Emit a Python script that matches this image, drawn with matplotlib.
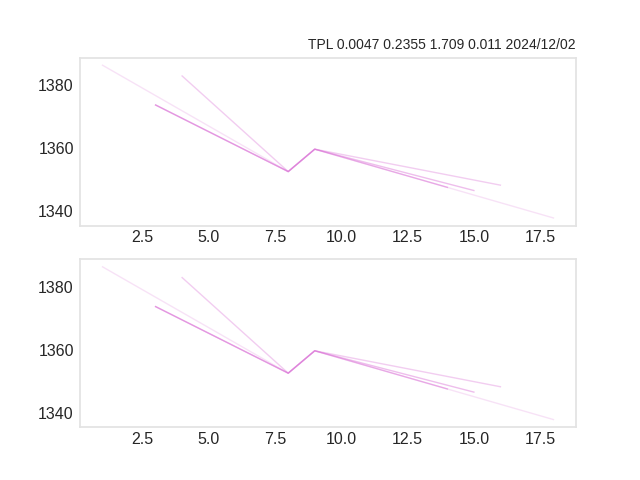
import matplotlib
matplotlib.use("Agg")
import matplotlib.pyplot as plt

title = "TPL 0.0047 0.2355 1.709 0.011 2024/12/02"

# each series: x positions and y values
series_x = [
    [1, 8, 9, 18],
    [4, 8, 9, 16],
    [3, 8, 9, 15],
    [3, 8, 9, 14],
]
series_y = [
    [1386.3, 1352.6, 1359.7, 1337.9],
    [1382.9, 1352.6, 1359.7, 1348.3],
    [1373.7, 1352.6, 1359.7, 1346.6],
    [1373.7, 1352.6, 1359.7, 1347.6],
]
series_alpha = [0.2, 0.35, 0.45, 0.5]

plt.rcParams['font.family'] = ['Liberation Sans', 'DejaVu Sans']

fig, axes = plt.subplots(2, 1, figsize=(6.4, 4.8), dpi=100)
for ax in axes:
    for xs, ys, a in zip(series_x, series_y, series_alpha):
        ax.plot(xs, ys, color='orchid', alpha=a, linewidth=1)
    ax.grid(False)
    ax.set_facecolor('white')
    for s in ax.spines.values():
        s.set_color('#e3e3e3')
        s.set_linewidth(1.25)
    ax.tick_params(axis='both', length=0, labelsize=11.5, colors='#262626', pad=4.5)
    ax.tick_params(axis='x', pad=3.5)
axes[0].set_title(title, loc='right', fontsize=10, color='#262626')
fig.savefig('out.png', dpi=100)
